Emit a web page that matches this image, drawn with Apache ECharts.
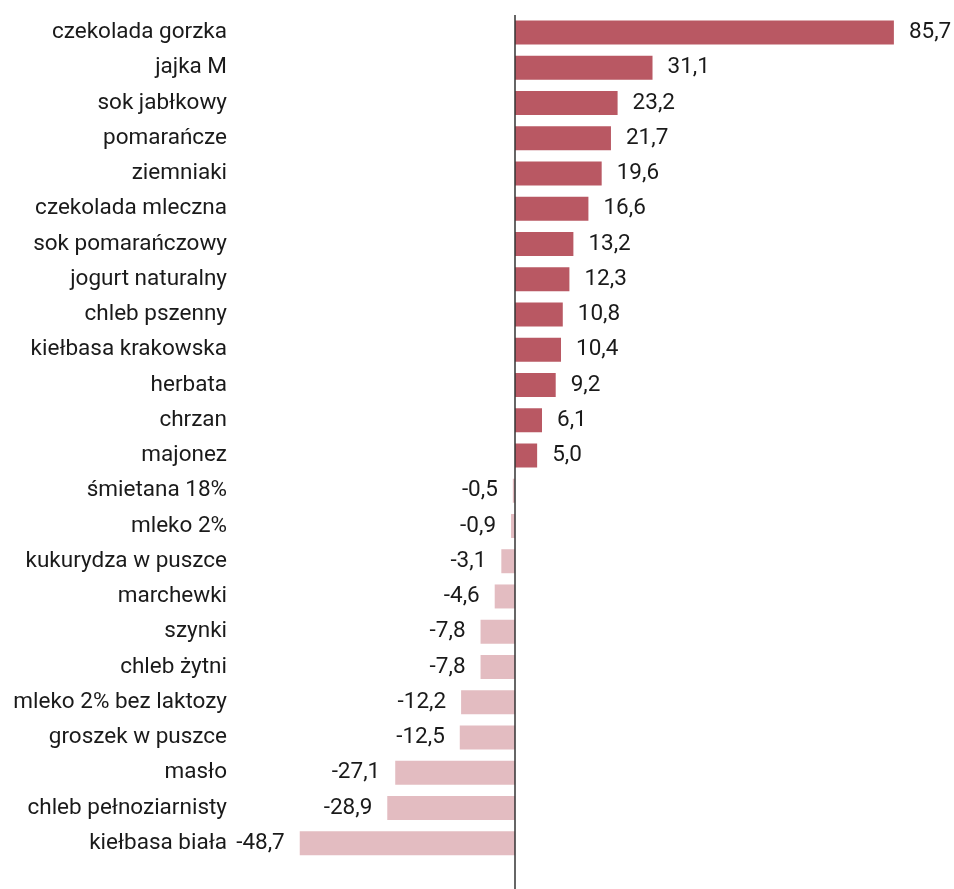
<!DOCTYPE html>
<html>
<head>
<meta charset="utf-8">
<script src="https://cdn.jsdelivr.net/npm/echarts@6/dist/echarts.min.js"></script>
<style>
  html, body { margin: 0; padding: 0; background: #fff; overflow: hidden; }
  /* wykres trochę wyższy niż okno: linia zera schodzi do samego dołu */
  #chart { width: 954px; height: 900px; }
</style>
</head>
<body>
<div id="chart"></div>
<script>
// kategorie od góry do dołu
const categories = [
  'czekolada gorzka', 'jajka M', 'sok jabłkowy', 'pomarańcze', 'ziemniaki',
  'czekolada mleczna', 'sok pomarańczowy', 'jogurt naturalny', 'chleb pszenny',
  'kiełbasa krakowska', 'herbata', 'chrzan', 'majonez', 'śmietana 18%',
  'mleko 2%', 'kukurydza w puszce', 'marchewki', 'szynki', 'chleb żytni',
  'mleko 2% bez laktozy', 'groszek w puszce', 'masło', 'chleb pełnoziarnisty',
  'kiełbasa biała'
]

const values = [
  85.7, 31.1, 23.2, 21.7, 19.6, 16.6, 13.2, 12.3, 10.8, 10.4, 9.2, 6.1, 5.0,
  -0.5, -0.9, -3.1, -4.6, -7.8, -7.8, -12.2, -12.5, -27.1, -28.9, -48.7
]

const posColor = '#b95863'
const negColor = '#e3bcc1'
const font = 'Roboto'

const fmt = v => v.toFixed(1).replace('.', ',')

const chart = echarts.init(document.getElementById('chart'))

const option = {
  animation: false,
  grid: { left: 294, width: 641, top: 15, height: 881, containLabel: false },
  xAxis: {
    type: 'value',
    min: -50,
    max: 95,
    show: false
  },
  yAxis: {
    type: 'category',
    data: categories,
    inverse: true,
    max: categories.length, // pusty pas na dole
    axisLine: { show: false },
    axisTick: { show: false },
    axisLabel: {
      margin: 67,
      fontFamily: font,
      fontSize: 22.5,
      color: '#1a1a1a',
      formatter: v => v || ''
    }
  },
  series: [{
    type: 'bar',
    barWidth: 24,
    data: values.map(v => ({
      value: v,
      itemStyle: { color: v >= 0 ? posColor : negColor },
      label: { position: v >= 0 ? 'right' : 'left' }
    })),
    label: {
      show: true,
      distance: 15,
      fontFamily: font,
      fontSize: 22.5,
      color: '#1a1a1a',
      formatter: p => fmt(p.value)
    },
    markLine: {
      silent: true,
      symbol: 'none',
      label: { show: false },
      lineStyle: { color: '#333', width: 1.5, type: 'solid' },
      data: [{ xAxis: 0 }]
    }
  }]
}

chart.setOption(option)
</script>
</body>
</html>
